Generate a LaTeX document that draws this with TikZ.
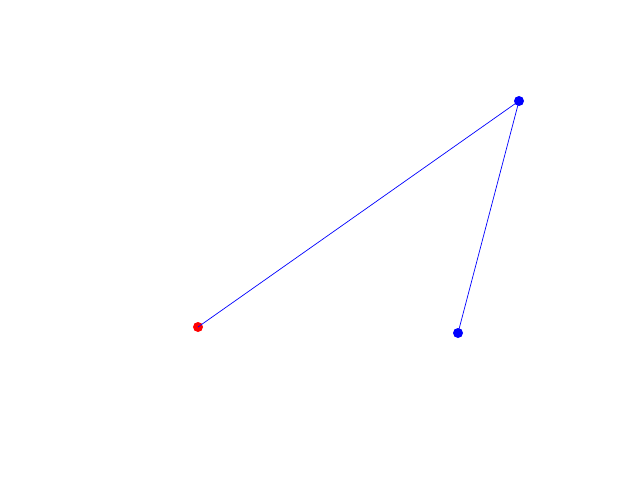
\documentclass[tikz,border=0pt]{standalone}
\usetikzlibrary{arrows.meta}

\begin{document}
\begin{tikzpicture}[
    x=0.025cm, y=-0.025cm,
    dot/.style={circle, inner sep=0pt, minimum size=0.25cm},
    link/.style={blue, line width=0.5pt}
]
    % fixed frame (640 x 480)
    \useasboundingbox (0,0) rectangle (640,480);

    % points
    \node[dot, fill=red] (A) at (198, 327) {};  % red point
    \node[dot, fill=blue] (B) at (519, 101) {}; % upper blue point
    \node[dot, fill=blue] (C) at (458, 333) {}; % lower blue point

    % links
    \draw[link] (A.center) -- (B.center);
    \draw[link] (B.center) -- (C.center);

\end{tikzpicture}
\end{document}
